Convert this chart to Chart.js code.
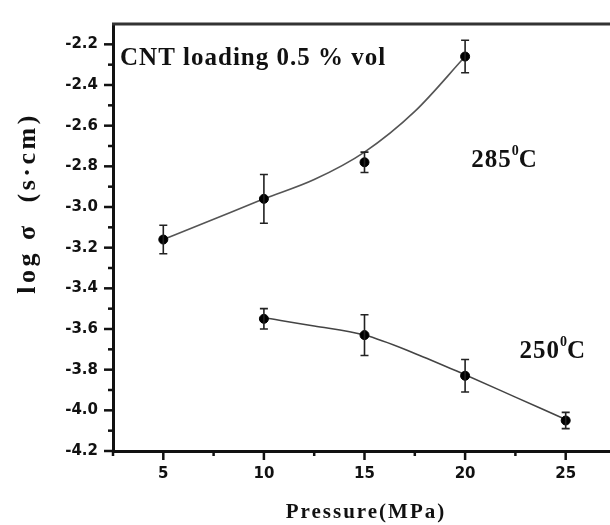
<!DOCTYPE html>
<html>
<head>
<meta charset="utf-8">
<script src="https://cdn.jsdelivr.net/npm/chart.js@4.4.1/dist/chart.umd.min.js"></script>
<style>
  html, body { margin: 0; padding: 0; background: #fff; overflow: hidden; }
  canvas { display: block; }
</style>
</head>
<body>
<canvas id="chart" width="630" height="525"></canvas>
<script>
// dados
const pressure285 = [5, 10, 15, 20];
const logSigma285 = [-3.16, -2.96, -2.78, -2.26];
const err285 = [0.07, 0.12, 0.05, 0.08];

const pressure250 = [10, 15, 20, 25];
const logSigma250 = [-3.55, -3.63, -3.83, -4.05];
const err250 = [0.05, 0.10, 0.08, 0.04];

// curvas ajustadas
const fitPressure285 = [5, 7.5, 10, 12.5, 15, 17.5, 20];
const fit285 = [-3.16, -3.06, -2.96, -2.865, -2.73, -2.53, -2.26];
const fitPressure250 = [10, 12.5, 15, 17.5, 20, 22.5, 25];
const fit250 = [-3.545, -3.585, -3.63, -3.72, -3.825, -3.935, -4.045];

const xTickLabels = [5, 10, 15, 20, 25];
const yTickLabels = [-4.2, -4.0, -3.8, -3.6, -3.4, -3.2, -3.0, -2.8, -2.6, -2.4, -2.2];

function toPoints(xs, ys) {
    return xs.map(function (x, i) { return { x: x, y: ys[i] }; });
}

const serif = "'Liberation Serif', 'Times New Roman', serif";

// textos dentro do gráfico (posição em unidades dos eixos)
const notes = [
    { x: 2.85, y: -2.27, parts: [['CNT loading 0.5 % vol', 0]], size: 25, spacing: 1 },
    { x: 20.3, y: -2.77, parts: [['285', 0], ['0', 1], ['C', 0]], size: 25, spacing: 1 },
    { x: 22.7, y: -3.71, parts: [['250', 0], ['0', 1], ['C', 0]], size: 25, spacing: 1 }
];

// barras de erro
const errorBars = {
    id: 'errorBars',
    afterDatasetsDraw: function (chart) {
        const ctx = chart.ctx;
        const xs = chart.scales.x, ys = chart.scales.y;
        chart.data.datasets.forEach(function (ds) {
            if (!ds.errors) return;
            ctx.save();
            ctx.strokeStyle = '#222';
            ctx.lineWidth = 1.6;
            ds.data.forEach(function (p, i) {
                const px = xs.getPixelForValue(p.x);
                const top = ys.getPixelForValue(p.y + ds.errors[i]);
                const bot = ys.getPixelForValue(p.y - ds.errors[i]);
                ctx.beginPath();
                ctx.moveTo(px, top); ctx.lineTo(px, bot);
                ctx.moveTo(px - 4, top); ctx.lineTo(px + 4, top);
                ctx.moveTo(px - 4, bot); ctx.lineTo(px + 4, bot);
                ctx.stroke();
            });
            ctx.restore();
        });
    }
};

// marcas dos eixos (maiores e menores), borda superior, títulos e textos
const decor = {
    id: 'decor',
    afterDraw: function (chart) {
        const ctx = chart.ctx;
        const area = chart.chartArea;
        const xs = chart.scales.x, ys = chart.scales.y;
        ctx.save();
        ctx.strokeStyle = '#111';
        ctx.lineWidth = 2.5;
        xs.ticks.forEach(function (t) {
            const px = xs.getPixelForValue(t.value);
            const len = xTickLabels.indexOf(t.value) >= 0 ? 9 : 5;
            ctx.beginPath();
            ctx.moveTo(px, area.bottom); ctx.lineTo(px, area.bottom + len);
            ctx.stroke();
        });
        ys.ticks.forEach(function (t) {
            if (t.value > -2.15) return;
            const py = ys.getPixelForValue(t.value);
            const major = yTickLabels.some(function (v) { return Math.abs(v - t.value) < 1e-6; });
            ctx.beginPath();
            ctx.moveTo(area.left, py); ctx.lineTo(area.left - (major ? 9 : 5), py);
            ctx.stroke();
        });
        // borda superior
        ctx.strokeStyle = '#333';
        ctx.lineWidth = 3;
        ctx.beginPath();
        ctx.moveTo(area.left - 1, area.top); ctx.lineTo(area.right, area.top);
        ctx.stroke();

        ctx.fillStyle = '#111';
        // título eixo x
        ctx.font = 'bold 21px ' + serif;
        ctx.letterSpacing = '2px';
        ctx.textAlign = 'center';
        ctx.textBaseline = 'middle';
        ctx.fillText('Pressure(MPa)', 366, 513);
        // título eixo y
        ctx.save();
        ctx.translate(28, 203);
        ctx.rotate(-Math.PI / 2);
        ctx.font = 'bold 26px ' + serif;
        ctx.letterSpacing = '3.5px';
        ctx.fillText('log \u03c3  (s\u00b7cm)', 0, 0);
        ctx.restore();

        // anotações
        ctx.textAlign = 'left';
        ctx.textBaseline = 'middle';
        notes.forEach(function (n) {
            let px = xs.getPixelForValue(n.x);
            const py = ys.getPixelForValue(n.y);
            n.parts.forEach(function (part) {
                const sup = part[1] === 1;
                const size = sup ? Math.round(n.size * 0.55) : n.size;
                ctx.font = 'bold ' + size + 'px ' + serif;
                ctx.letterSpacing = (sup ? 0 : n.spacing) + 'px';
                ctx.fillText(part[0], px, sup ? py - n.size * 0.35 : py);
                px += ctx.measureText(part[0]).width;
            });
        });
        ctx.restore();
    }
};

const ctxChart = document.getElementById('chart').getContext('2d');
new Chart(ctxChart, {
    type: 'scatter',
    data: {
        datasets: [
            {
                label: '285 fit',
                data: toPoints(fitPressure285, fit285),
                showLine: true,
                borderColor: '#555',
                borderWidth: 1.6,
                cubicInterpolationMode: 'monotone',
                pointRadius: 0,
                order: 3
            },
            {
                label: '250 fit',
                data: toPoints(fitPressure250, fit250),
                showLine: true,
                borderColor: '#444',
                borderWidth: 1.6,
                cubicInterpolationMode: 'monotone',
                pointRadius: 0,
                order: 4
            },
            {
                label: '285',
                data: toPoints(pressure285, logSigma285),
                errors: err285,
                showLine: false,
                pointRadius: 4.5,
                pointBackgroundColor: '#000',
                pointBorderColor: '#000',
                order: 1
            },
            {
                label: '250',
                data: toPoints(pressure250, logSigma250),
                errors: err250,
                showLine: false,
                pointRadius: 4.5,
                pointBackgroundColor: '#000',
                pointBorderColor: '#000',
                order: 2
            }
        ]
    },
    options: {
        responsive: false,
        animation: false,
        layout: { padding: { top: 15, right: 11, left: 0, bottom: 0 } },
        plugins: {
            legend: { display: false },
            tooltip: { enabled: false }
        },
        scales: {
            x: {
                type: 'linear',
                min: 2.5,
                max: 27.5,
                afterFit: function (scale) { scale.height = 74; },
                border: { display: true, color: '#111', width: 3 },
                grid: { display: false, drawTicks: false },
                ticks: {
                    stepSize: 2.5,
                    autoSkip: false,
                    maxRotation: 0,
                    padding: 14,
                    color: '#111',
                    font: { family: "'DejaVu Sans', sans-serif", size: 15, weight: 'bold' },
                    callback: function (v) { return xTickLabels.indexOf(v) >= 0 ? String(v) : ''; }
                }
            },
            y: {
                type: 'linear',
                min: -4.2,
                max: -2.1,
                afterFit: function (scale) { scale.width = 113; },
                border: { display: true, color: '#111', width: 3 },
                grid: { display: false, drawTicks: false },
                ticks: {
                    stepSize: 0.1,
                    autoSkip: false,
                    padding: 15,
                    color: '#111',
                    font: { family: "'DejaVu Sans', sans-serif", size: 15, weight: 'bold' },
                    callback: function (v) {
                        const hit = yTickLabels.some(function (t) { return Math.abs(t - v) < 1e-6; });
                        return hit ? v.toFixed(1) : '';
                    }
                }
            }
        }
    },
    plugins: [errorBars, decor]
});
</script>
</body>
</html>
